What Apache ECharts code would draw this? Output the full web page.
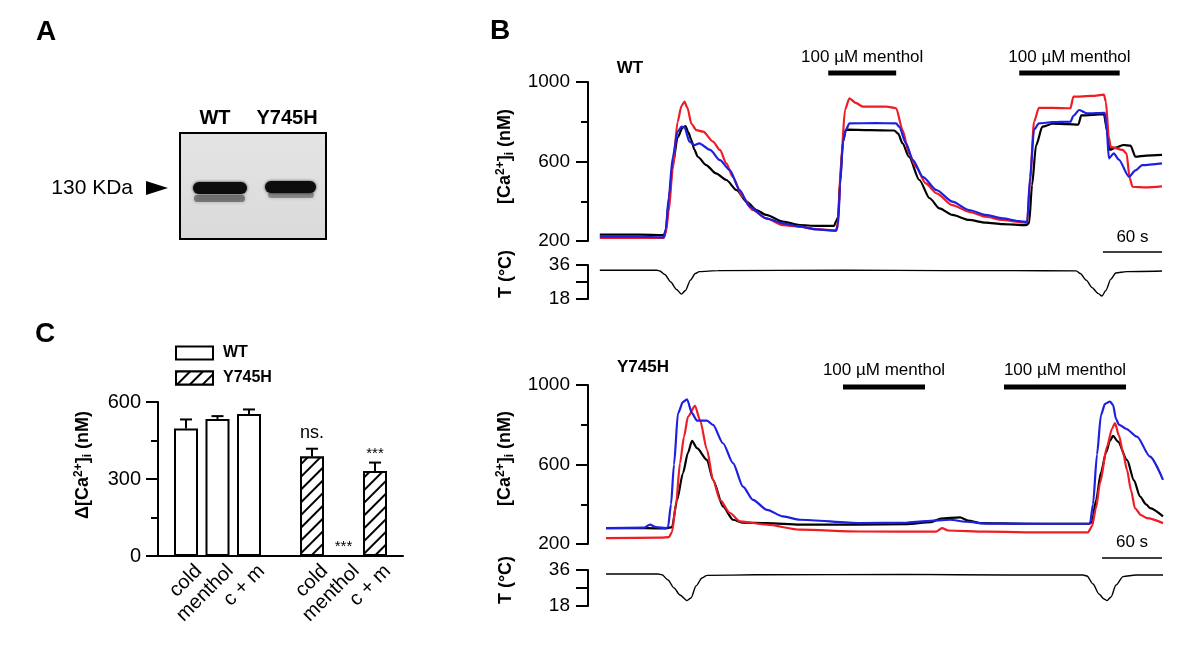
<!DOCTYPE html>
<html>
<head>
<meta charset="utf-8">
<script src="https://cdn.jsdelivr.net/npm/echarts@6/dist/echarts.min.js"></script>
<style>
  html, body { margin: 0; padding: 0; background: #fff; }
  #fig { width: 1200px; height: 668px; }
</style>
</head>
<body>
<div id="fig"></div>
<script>
const FONT = '"Liberation Sans", Arial, Helvetica, sans-serif'

// ---- panel C : response amplitudes ----
const conditions = ['cold', 'menthol', 'c + m']
const wtMean = [497, 534, 553]
const wtErr = [35, 11, 18]
const mutMean = [388, 0, 331]
const mutErr = [30, 0, 33]
const mutSig = ['ns.', '***', '***']

// ---- panel B : [Ca2+]i traces, [time s, nM] ----
const wtBlack = [[0,232],[40,232],[65,230],[67,250],[70,400],[74,580],[79,720],[84,770],[87,778],[90,745],[93,708],[96,660],[99.5,624],[108,582],[118,540],[128.5,507],[139,456],[149,398],[159,356],[169,331],[186,297],[203,280],[220,276],[238,276],[240,300],[242,320],[244,500],[247,700],[250,760],[274,758],[299,756],[303,740],[307.5,691],[314,624],[324.5,507],[335,415],[345,364],[358,331],[375,306],[392,292],[409,285],[433,280],[436,290],[439,480],[443,680],[449.5,775],[460,790],[475,788],[486,786],[489,832],[512,838],[515,760],[518,658],[524,670],[532,683],[539,680],[544,624],[555,630],[571,633]]
const wtRed = [[0,216],[40,216],[65,216],[67,240],[70,350],[74,560],[79,800],[83,880],[86,901],[89,870],[93,790],[98,758],[105,750],[115,700],[122,658],[128.5,591],[135,523],[145,423],[155,356],[169,314],[186,280],[203,272],[220,260],[240,252],[242,300],[245,600],[249,860],[253.5,918],[260,895],[267,876],[291,876],[301,868],[307.5,758],[314,641],[321,574],[331,490],[342,440],[358,381],[375,347],[392,322],[409,306],[426,295],[434,292],[437,500],[441,800],[446,870],[460,870],[478,868],[481,926],[500,930],[512,936],[514,900],[517,720],[519,674],[531,658],[535,640],[538,520],[541,473],[555,470],[571,475]]
const wtBlue = [[0,222],[40,222],[65,218],[67,260],[70,420],[74,620],[79,750],[83,775],[86,772],[91,700],[96,683],[101,691],[112,658],[122,607],[132,557],[142,456],[152,373],[169,314],[186,289],[203,272],[220,258],[240,252],[242,280],[244,480],[247,700],[250,760],[253.5,792],[280,793],[301,792],[304,775],[311,691],[318,607],[328,523],[342,456],[358,398],[375,356],[392,331],[409,314],[426,300],[434,295],[437,520],[441,760],[446,792],[460,798],[478,800],[481,830],[487,859],[495,842],[513,845],[515,750],[517,616],[522,641],[527,610],[537.5,523],[544,555],[551,582],[571,591]]
const wtTemp = [[0,33.2],[58,33.2],[61,32.8],[66,31],[72,27],[78,23],[83,20.6],[87,22.5],[92,28],[97,31.5],[101,32.5],[120,33],[250,33.3],[350,33],[420,33],[484,32.9],[488,31.5],[494,28],[500,24],[506,21],[510,19.6],[514,22.5],[519,28.5],[524,31.8],[535,32.5],[571,32.8]]

const mutBlack = [[0,280],[40,280],[60,278],[66,285],[71,420],[77,557],[82,660],[86,719],[91,682],[101,623],[107,523],[117,389],[127,322],[137,307],[161,305],[194,297],[250,297],[300,300],[325,310],[335,328],[354,334],[362,318],[375,305],[420,302],[483,302],[486,310],[490,420],[495,560],[500,660],[504,720],[507,744],[512,715],[521,623],[528,520],[534,439],[540,400],[544,381],[557,339]]
const mutRed = [[0,230],[55,232],[63,235],[66,260],[70,400],[74,607],[78,740],[82,841],[89,895],[94,824],[101,674],[107,523],[114,422],[124,356],[134,314],[161,297],[194,272],[254,263],[330,262],[336,280],[342,268],[380,262],[440,258],[482,258],[486,290],[490,380],[494,506],[501,690],[506,780],[509,808],[513,745],[517,660],[521,573],[525,470],[529,380],[535,345],[541,330],[557,305]]
const mutBlue = [[0,280],[38,282],[44,297],[50,285],[60,280],[62,285],[65,400],[68,600],[72,858],[77,915],[81,928],[86,858],[91,821],[101,821],[107,799],[117,707],[127,607],[137,489],[147,422],[161,372],[177,339],[194,322],[254,305],[300,307],[320,315],[344,322],[360,312],[380,303],[440,302],[484,302],[487,400],[491,650],[495,850],[499,905],[504,917],[507,900],[510,830],[513,800],[520,780],[531,740],[544,640],[557,523]]
const mutTemp = [[0,34],[52,34],[56,33.6],[62,31],[68,27],[74,23.5],[81,20.7],[85,22],[90,28],[96,32],[101,33.3],[150,33.6],[300,33.8],[400,33.5],[477,33.5],[481,33],[487,29],[493,24],[498,21.5],[501,20.7],[505,22.5],[510,28.5],[517,32.7],[530,33.5],[557,33.5]]

// menthol application windows [start s, end s]
const wtMenthol = [[232, 301], [426, 528]]
const mutMenthol = [[237, 319], [398, 520]]
const stimLabel = '100 µM menthol'
// 60 s scale bars [start s, end s]
const wtScale = [[511, 571]]
const mutScale = [[496, 556]]

// ---------------------------------------------------------------
const chart = echarts.init(document.getElementById('fig'))

const slots = conditions.concat([''], conditions)
const blank = conditions.map(() => '-')
const wtBars = wtMean.concat(['-'], blank)
const mutBars = blank.concat(['-'], mutMean)
const errData = []
const errSig = []
wtMean.forEach((m, i) => { errData.push([i, m, wtErr[i]]); errSig.push('') })
mutMean.forEach((m, i) => { errData.push([i + 4, m, mutErr[i]]); errSig.push(mutSig[i]) })

const nameRich = {
  b: { fontFamily: FONT, fontWeight: 'bold', fontSize: 18, color: '#000' },
  sup: { fontFamily: FONT, fontWeight: 'bold', fontSize: 12, color: '#000', padding: [0, 0, 9, 0] },
  sub: { fontFamily: FONT, fontWeight: 'bold', fontSize: 12, color: '#000', padding: [8, 0, 0, 0] }
}

// labelled ticks every `interval`, short minor tick halfway
function yAxisOf(gridIndex, min, max, interval, minorSplit, name, gap, shift) {
  return {
    type: 'value', gridIndex, min, max, interval,
    name, nameLocation: 'middle', nameGap: gap, nameRotate: 90,
    nameTextStyle: { rich: nameRich, padding: [0, 0, 0, shift] },
    axisLine: { show: true, onZero: false, lineStyle: { color: '#000', width: 2 } },
    axisTick: { show: true, length: 12, lineStyle: { color: '#000', width: 2 } },
    minorTick: { show: minorSplit > 1, splitNumber: minorSplit, length: 7, lineStyle: { color: '#000', width: 2 } },
    axisLabel: { margin: 18, fontSize: 19, color: '#000', fontFamily: FONT, formatter: v => String(v) },
    splitLine: { show: false },
    minorSplitLine: { show: false }
  }
}
const caName = '{b|[Ca}{sup|2+}{b|]}{sub|i}{b| (nM)}'
const tName = '{b|T (°C)}'

function tAxisOf(gridIndex, gap) {
  const ax = yAxisOf(gridIndex, 18, 36, 9, 0, tName, gap, 16)
  ax.axisLabel.formatter = v => (v === 27 ? '' : String(v))
  return ax
}

function hiddenX(gridIndex, min, max) {
  return { type: 'value', gridIndex, min, max, show: false }
}

function trace(data, color, axis, width) {
  return {
    type: 'line', xAxisIndex: axis, yAxisIndex: axis, data,
    symbol: 'none', smooth: 0.25, smoothMonotone: 'x', silent: true,
    lineStyle: { color, width }
  }
}

// menthol bar + label above a Ca grid
function stimSeries(axis, windows, barDy, textDy) {
  return {
    type: 'custom', xAxisIndex: axis, yAxisIndex: axis, clip: false, silent: true,
    data: windows,
    renderItem(params, api) {
      const a = api.coord([api.value(0), 1000])
      const b = api.coord([api.value(1), 1000])
      return {
        type: 'group', children: [
          { type: 'rect', shape: { x: a[0], y: a[1] + barDy - 2.5, width: b[0] - a[0], height: 5 }, style: { fill: '#000' } },
          { type: 'text', x: (a[0] + b[0]) / 2, y: a[1] + textDy,
            style: { text: stimLabel, fill: '#000', font: '17px ' + FONT, align: 'center', verticalAlign: 'middle', textAlign: 'center', textVerticalAlign: 'middle' } }
        ]
      }
    }
  }
}

function scaleSeries(axis, windows, barDy, textDy) {
  return {
    type: 'custom', xAxisIndex: axis, yAxisIndex: axis, clip: false, silent: true,
    data: windows,
    renderItem(params, api) {
      const a = api.coord([api.value(0), 200])
      const b = api.coord([api.value(1), 200])
      return {
        type: 'group', children: [
          { type: 'line', shape: { x1: a[0], y1: a[1] + barDy, x2: b[0], y2: b[1] + barDy }, style: { stroke: '#000', lineWidth: 1.5 } },
          { type: 'text', x: (a[0] + b[0]) / 2, y: a[1] + textDy,
            style: { text: (api.value(1) - api.value(0)) + ' s', fill: '#000', font: '17px ' + FONT, align: 'center', verticalAlign: 'middle', textAlign: 'center', textVerticalAlign: 'middle' } }
        ]
      }
    }
  }
}

function txt(x, y, text, font, align) {
  return { type: 'text', x, y, silent: true,
    style: { text, font, fill: '#000', align: align || 'center', verticalAlign: 'middle', textAlign: align || 'center', textVerticalAlign: 'middle' } }
}

const hatch = {
  symbol: 'rect', symbolSize: 1, dashArrayX: [1, 0], dashArrayY: [1.5, 6.5],
  rotation: -Math.PI / 4, color: '#000', backgroundColor: '#fff'
}

const cAxis = yAxisOf(0, 0, 600, 300, 2, '{b|Δ[Ca}{sup|2+}{b|]}{sub|i}{b| (nM)}', 64, 28)
cAxis.axisLabel.margin = 17
cAxis.axisLabel.fontSize = 20

const option = {
  animation: false,
  backgroundColor: '#fff',
  textStyle: { fontFamily: FONT, color: '#000' },
  grid: [
    { left: 158, top: 402, width: 245, height: 154 },      // C frame
    { left: 170.25, top: 402, width: 220.5, height: 154 }, // C bars
    { left: 183, top: 402, width: 220.5, height: 154 },    // C labels
    { left: 588, top: 82, width: 575, height: 159 },       // WT Ca
    { left: 588, top: 265, width: 575, height: 34 },       // WT T
    { left: 588, top: 385, width: 575, height: 159 },      // Y745H Ca
    { left: 588, top: 570, width: 575, height: 36 }        // Y745H T
  ],
  xAxis: [
    { type: 'value', gridIndex: 0, min: 0, max: 1, axisLine: { show: true, onZero: false, lineStyle: { color: '#000', width: 2 } }, axisTick: { show: false }, axisLabel: { show: false }, splitLine: { show: false } },
    { type: 'category', gridIndex: 1, data: slots, show: false },
    { type: 'category', gridIndex: 2, data: slots, axisLine: { show: false }, axisTick: { show: false },
      axisLabel: { interval: 0, rotate: 45, margin: 12, fontSize: 20, color: '#000', fontFamily: FONT } },
    hiddenX(3, -12, 572),
    hiddenX(4, -12, 572),
    hiddenX(5, -18, 557),
    hiddenX(6, -18, 557)
  ],
  yAxis: [
    cAxis,
    { type: 'value', gridIndex: 1, min: 0, max: 600, show: false },
    { type: 'value', gridIndex: 2, min: 0, max: 600, show: false },
    yAxisOf(3, 200, 1000, 400, 2, caName, 72, 10),
    tAxisOf(4, 73),
    yAxisOf(5, 200, 1000, 400, 2, caName, 72, 12),
    tAxisOf(6, 73)
  ],
  legend: {
    data: ['WT', 'Y745H'], left: 170, top: 340, orient: 'vertical',
    itemWidth: 37, itemHeight: 13, itemGap: 9, icon: 'rect', selectedMode: false,
    textStyle: { fontFamily: FONT, fontWeight: 'bold', fontSize: 16, color: '#000', padding: [0, 0, 0, 5] }
  },
  series: [
    { name: 'WT', type: 'bar', xAxisIndex: 1, yAxisIndex: 1, data: wtBars, barWidth: 24, barGap: '-100%',
      itemStyle: { color: '#fff', borderColor: '#000', borderWidth: 2 }, silent: true },
    { name: 'Y745H', type: 'bar', xAxisIndex: 1, yAxisIndex: 1, data: mutBars, barWidth: 24, barGap: '-100%',
      itemStyle: { color: '#fff', borderColor: '#000', borderWidth: 2, decal: hatch }, silent: true },
    {
      type: 'custom', xAxisIndex: 1, yAxisIndex: 1, data: errData, clip: false, silent: true, z: 5,
      renderItem(params, api) {
        const slot = api.value(0), m = api.value(1), e = api.value(2)
        const base = api.coord([slot, m]), top = api.coord([slot, m + e])
        const children = []
        if (e > 0) {
          children.push({ type: 'line', shape: { x1: base[0], y1: base[1], x2: top[0], y2: top[1] }, style: { stroke: '#000', lineWidth: 2 } })
          children.push({ type: 'line', shape: { x1: top[0] - 6, y1: top[1], x2: top[0] + 6, y2: top[1] }, style: { stroke: '#000', lineWidth: 2 } })
        }
        const sig = errSig[params.dataIndex]
        if (sig) {
          const star = sig === '***'
          children.push({ type: 'text', x: top[0], y: top[1] - (star ? 9 : 16),
            style: { text: sig, fill: '#000', font: (star ? '15px ' : '18px ') + FONT, align: 'center', verticalAlign: 'middle', textAlign: 'center', textVerticalAlign: 'middle' } })
        }
        return { type: 'group', children }
      }
    },
    trace(wtBlack, '#000000', 3, 2.2),
    trace(wtRed, '#ee1c24', 3, 2.2),
    trace(wtBlue, '#1f1fe0', 3, 2.2),
    trace(wtTemp, '#000000', 4, 1.4),
    trace(mutBlack, '#000000', 5, 2.2),
    trace(mutRed, '#ee1c24', 5, 2.2),
    trace(mutBlue, '#1f1fe0', 5, 2.2),
    trace(mutTemp, '#000000', 6, 1.4),
    stimSeries(3, wtMenthol, -9, -25),
    stimSeries(5, mutMenthol, 2, -15),
    scaleSeries(3, wtScale, 11, -4),
    scaleSeries(5, mutScale, 14, -2)
  ],
  graphic: [
    txt(46, 32, 'A', 'bold 28px ' + FONT),
    txt(500, 31, 'B', 'bold 28px ' + FONT),
    txt(45, 334, 'C', 'bold 28px ' + FONT),
    txt(630, 68, 'WT', 'bold 17px ' + FONT),
    txt(643, 367, 'Y745H', 'bold 17px ' + FONT),
    // western blot
    { type: 'rect', silent: true, shape: { x: 180, y: 133, width: 146, height: 106 },
      style: { fill: new echarts.graphic.LinearGradient(0, 0, 0, 1, [{ offset: 0, color: '#e4e4e4' }, { offset: 1, color: '#dadada' }]), stroke: '#000', lineWidth: 2 } },
    { type: 'rect', silent: true, shape: { x: 194, y: 195, width: 51, height: 7, r: 3 }, style: { fill: 'rgba(60,60,60,0.55)', shadowBlur: 4, shadowColor: 'rgba(60,60,60,0.6)' } },
    { type: 'rect', silent: true, shape: { x: 268, y: 192, width: 46, height: 6, r: 3 }, style: { fill: 'rgba(60,60,60,0.45)', shadowBlur: 4, shadowColor: 'rgba(60,60,60,0.5)' } },
    { type: 'rect', silent: true, shape: { x: 193, y: 182, width: 54, height: 12, r: 6 }, style: { fill: '#0d0d0d', shadowBlur: 3, shadowColor: 'rgba(0,0,0,0.8)' } },
    { type: 'rect', silent: true, shape: { x: 265, y: 181, width: 51, height: 12, r: 6 }, style: { fill: '#0d0d0d', shadowBlur: 3, shadowColor: 'rgba(0,0,0,0.8)' } },
    { type: 'polygon', silent: true, shape: { points: [[146, 181], [168, 188], [146, 195]] }, style: { fill: '#000' } },
    txt(133, 188, '130 KDa', '21px ' + FONT, 'right'),
    txt(215, 118, 'WT', 'bold 20px ' + FONT),
    txt(287, 118, 'Y745H', 'bold 20px ' + FONT)
  ]
}

chart.setOption(option)
</script>
</body>
</html>
